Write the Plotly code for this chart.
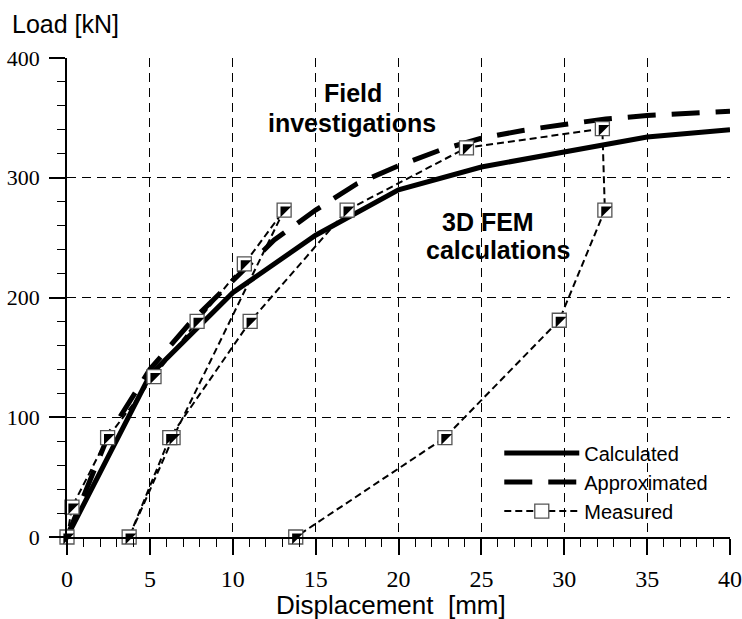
import plotly.graph_objects as go

# Calculated (3D FEM)
calc_x = [0, 5, 10, 15, 20, 25, 35, 40]
calc_y = [0, 135, 204, 252, 290, 309, 334, 340]

# Approximated
appr_x = [0, 2.5, 5, 7.5, 10, 12.5, 15, 17.5, 20, 22.5, 25, 27.5, 30, 32.5, 35, 37.5, 40]
appr_y = [0, 85, 140, 180, 214, 248, 273, 295, 310, 323, 333, 339.5, 344.5, 349, 352, 354, 355.5]

# Measured (field investigations), in loading order
meas_x = [0, 0.3, 2.45, 5.25, 7.85, 10.7, 13.1, 6.4, 3.75, 6.2, 11.05, 16.9, 24.1, 32.3, 32.45, 29.7, 22.8, 13.8]
meas_y = [0, 25, 83, 134, 180, 228, 273, 83, 0, 83, 180, 273, 325, 341, 273, 181, 83, 0]

x_ticks = [0, 5, 10, 15, 20, 25, 30, 35, 40]
y_ticks = [0, 100, 200, 300, 400]

SANS = "Liberation Sans, Arial, Helvetica, sans-serif"
SERIF = "Liberation Serif, Times New Roman, Times, serif"

fig = go.Figure()
fig.add_trace(go.Scatter(x=calc_x, y=calc_y, mode="lines", name="Calculated",
                         line=dict(color="black", width=5), cliponaxis=False))
fig.add_trace(go.Scatter(x=appr_x, y=appr_y, mode="lines", name="Approximated",
                         line=dict(color="black", width=5, dash="28px,16px"), cliponaxis=False))
fig.add_trace(go.Scatter(x=meas_x, y=meas_y, mode="lines+markers", name="Measured",
                         legendgroup="m",
                         line=dict(color="black", width=2, dash="7px,4px"),
                         marker=dict(symbol="square", size=14, color="white",
                                     line=dict(color="#555555", width=1.3)),
                         cliponaxis=False))
fig.add_trace(go.Scatter(x=meas_x, y=meas_y, mode="markers", name="Measured",
                         legendgroup="m", showlegend=False,
                         marker=dict(symbol="triangle-nw", size=12, color="black",
                                     line=dict(width=0)),
                         cliponaxis=False))

fig.update_xaxes(range=[0, 40], tickvals=x_ticks, showline=True, linecolor="black", linewidth=1.5,
                 ticks="outside", ticklen=16, tickcolor="black", tickwidth=1.5,
                 tickfont=dict(family=SERIF, size=24, color="black"), ticklabelstandoff=3,
                 showgrid=True, gridcolor="black", gridwidth=1, griddash="9px,6px", zeroline=False,
                 automargin=False,
                 minor=dict(dtick=1, ticks="outside", ticklen=8, tickcolor="black", tickwidth=1.2, showgrid=False))
fig.update_yaxes(range=[0, 400], tickvals=y_ticks, showline=True, linecolor="black", linewidth=1.5,
                 ticks="outside", ticklen=16, tickcolor="black", tickwidth=1.5,
                 tickfont=dict(family=SERIF, size=22, color="black"), ticklabelstandoff=5,
                 showgrid=True, gridcolor="black", gridwidth=1, griddash="9px,6px", zeroline=False,
                 automargin=False,
                 minor=dict(dtick=20, ticks="outside", ticklen=8, tickcolor="black", tickwidth=1.2, showgrid=False))

bold = dict(family=SANS, size=25, color="black")
fig.add_annotation(x=17.25, y=371, text="<b>Field</b>", showarrow=False, font=bold)
fig.add_annotation(x=17.2, y=346, text="<b>investigations</b>", showarrow=False, font=bold)
fig.add_annotation(x=25.4, y=263, text="<b>3D FEM</b>", showarrow=False, font=bold)
fig.add_annotation(x=26.06, y=240, text="<b>calculations</b>", showarrow=False, font=bold)

title_font = dict(family=SANS, size=25, color="black")
fig.add_annotation(xref="paper", yref="paper", x=-0.086, y=1.071, xanchor="left", yanchor="middle",
                   text="Load [kN]", showarrow=False, font=title_font)
fig.add_annotation(xref="paper", yref="paper", x=0.489, y=-0.142, xanchor="center", yanchor="middle",
                   text="Displacement\u00a0 [mm]", showarrow=False, font=dict(family=SANS, size=26, color="black"))

fig.update_layout(
    width=742, height=619,
    margin=dict(l=67, r=12, t=58, b=82),
    paper_bgcolor="white", plot_bgcolor="white",
    showlegend=True,
    legend=dict(x=0.652, y=0.216, xanchor="left", yanchor="top",
                bgcolor="rgba(0,0,0,0)", font=dict(family=SANS, size=20, color="black"),
                itemwidth=75, tracegroupgap=0),
)

fig.write_html("out.html")
